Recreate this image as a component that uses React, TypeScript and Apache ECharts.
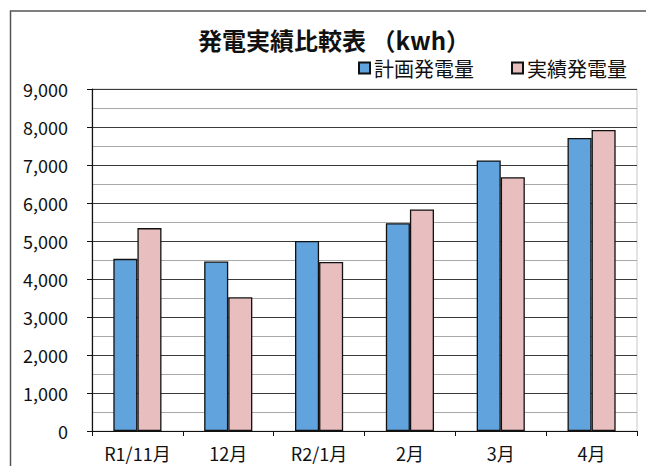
import React, { useEffect, useRef } from "react";
import * as echarts from "echarts";

// Monthly generation: planned vs. actual (kWh)
const categories = ["R1/11月", "12月", "R2/1月", "2月", "3月", "4月"];
const plannedKwh = [4530, 4460, 5000, 5470, 7120, 7710];
const actualKwh = [5340, 3520, 4450, 5830, 6680, 7920];
const seriesNames = ["計画発電量", "実績発電量"];
const titleText = "発電実績比較表 （kwh）";

const FONT = "'Noto Sans CJK JP', 'Noto Sans', sans-serif";

export default function App() {
  const ref = useRef<HTMLDivElement>(null);

  useEffect(() => {
    if (!ref.current) return;
    const chart = echarts.init(ref.current, undefined, { renderer: "svg" });
    chart.setOption({
      animation: false,
      backgroundColor: "#ffffff",
      textStyle: { fontFamily: FONT },
      title: {
        text: titleText,
        left: 198,
        top: 27,
        padding: 0,
        textStyle: {
          fontFamily: FONT,
          fontSize: 24,
          lineHeight: 24,
          fontWeight: "bold",
          color: "#111",
        },
      },
      legend: {
        left: 358,
        top: 58,
        padding: 0,
        icon: "rect",
        itemWidth: 11,
        itemHeight: 11,
        itemGap: 37,
        textStyle: {
          fontFamily: FONT,
          fontSize: 20,
          lineHeight: 20,
          color: "#111",
          padding: [0, 0, 0, -1],
        },
        data: seriesNames,
      },
      grid: {
        left: 92,
        right: 9,
        top: 89,
        bottom: 35,
        show: true,
        borderColor: "#c8c8c8",
        borderWidth: 1,
        backgroundColor: "transparent",
      },
      xAxis: {
        type: "category",
        data: categories,
        axisLine: { lineStyle: { color: "#111", width: 1.2 } },
        axisTick: { show: true, length: 5, alignWithLabel: false, lineStyle: { color: "#111" } },
        axisLabel: {
          fontFamily: FONT,
          fontSize: 18,
          lineHeight: 18,
          color: "#111",
          margin: 13,
          interval: 0,
        },
        splitLine: { show: false },
      },
      yAxis: {
        type: "value",
        min: 0,
        max: 9000,
        interval: 1000,
        axisLine: { show: true, lineStyle: { color: "#111", width: 1.2 } },
        axisTick: { show: true, length: 5, inside: false, lineStyle: { color: "#111" } },
        axisLabel: {
          fontFamily: FONT,
          fontSize: 18,
          color: "#111",
          margin: 24,
          formatter: (v: number) => v.toLocaleString("en-US"),
        },
        splitLine: { show: true, lineStyle: { color: "#3a3a3a", width: 1 } },
        minorTick: { show: false, splitNumber: 2 },
        minorSplitLine: { show: true, lineStyle: { color: "#a8a8a8", width: 1 } },
      },
      series: [
        {
          name: seriesNames[0],
          type: "bar",
          data: plannedKwh,
          barGap: "0%",
          barCategoryGap: "47%",
          itemStyle: { color: "#60a3dd", borderColor: "#111", borderWidth: 1.3 },
        },
        {
          name: seriesNames[1],
          type: "bar",
          data: actualKwh,
          itemStyle: { color: "#e8bebe", borderColor: "#111", borderWidth: 1.3 },
        },
      ],
      graphic: [
        {
          type: "rect",
          silent: true,
          shape: { x: 10.5, y: 11, width: 700, height: 520 },
          style: { fill: "none", stroke: "#555", lineWidth: 1.5 },
          z: 100,
        },
      ],
    });
    return () => chart.dispose();
  }, []);

  return (
    <div
      ref={ref}
      style={{ position: "absolute", left: 0, top: 0, width: 646, height: 466 }}
    />
  );
}
